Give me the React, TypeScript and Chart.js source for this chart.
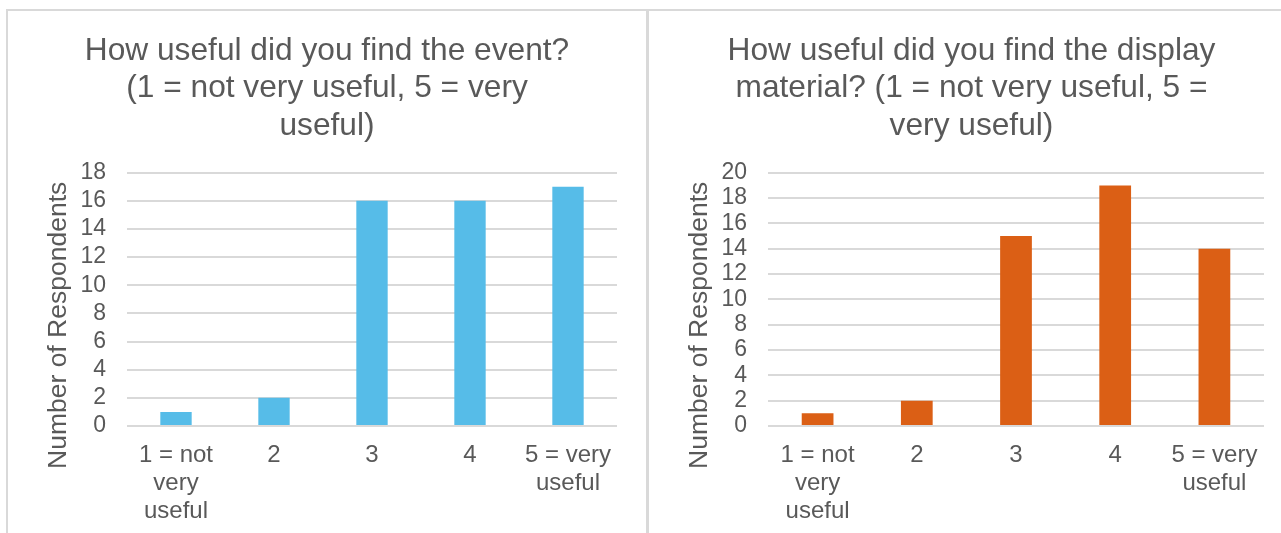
import React, { useEffect, useRef } from "react";
import { Chart, registerables } from "chart.js";

Chart.register(...registerables);

const categories: (string | string[])[] = [
  ["1 = not", "very", "useful"],
  "2",
  "3",
  "4",
  ["5 = very", "useful"],
];

const eventTitle = ["How useful did you find the event?", "(1 = not very useful, 5 = very", "useful)"];
const eventValues = [1, 2, 16, 16, 17];
const eventMax = 18;

const displayTitle = ["How useful did you find the display", "material? (1 = not very useful, 5 =", "very useful)"];
const displayValues = [1, 2, 15, 19, 14];
const displayMax = 20;

const yAxisTitle = "Number of Respondents";

const FONT = "'Liberation Sans', Arial, Helvetica, sans-serif";
const TEXT = "#595959";
const GRID = "#d9d9d9";

const yTitlePlugin = {
  id: "yTitle",
  afterDraw(chart: any) {
    const { ctx, chartArea } = chart;
    ctx.save();
    ctx.fillStyle = TEXT;
    ctx.font = `26.5px ${FONT}`;
    ctx.textAlign = "center";
    ctx.textBaseline = "middle";
    ctx.translate(51, (chartArea.top + chartArea.bottom) / 2 + 26);
    ctx.rotate(-Math.PI / 2);
    ctx.fillText(yAxisTitle, 0, 0);
    ctx.restore();
  },
};

type Props = {
  title: string[];
  values: number[];
  max: number;
  color: string;
  width: number;
  height: number;
  padRight: number;
};

function BarChart({ title, values, max, color, width, height, padRight }: Props) {
  const ref = useRef<HTMLCanvasElement | null>(null);
  useEffect(() => {
    if (!ref.current) return;
    const chart = new Chart(ref.current, {
      type: "bar",
      data: {
        labels: categories,
        datasets: [
          {
            data: values,
            backgroundColor: color,
            borderWidth: 0,
            categoryPercentage: 1,
            barPercentage: 0.32,
            yAxisID: "y",
          },
        ],
      },
      plugins: [yTitlePlugin],
      options: {
        animation: false,
        responsive: false,
        maintainAspectRatio: false,
        layout: { padding: 0 },
        plugins: {
          legend: { display: false },
          tooltip: { enabled: false },
          title: {
            display: true,
            text: title,
            color: TEXT,
            font: { family: FONT, size: 31.7, weight: "normal", lineHeight: 1.18 },
            padding: { top: 21.5, bottom: 28 },
          },
        },
        scales: {
          x: {
            grid: { display: false, drawTicks: false },
            border: { display: false },
            ticks: {
              color: TEXT,
              padding: 16,
              maxRotation: 0,
              autoSkip: false,
              font: { family: FONT, size: 24, lineHeight: 1.15 },
            },
            afterFit: (s: any) => {
              s.height = 107;
            },
          },
          y: {
            min: 0,
            max: max,
            grid: { color: GRID, lineWidth: 2, drawTicks: false },
            border: { display: false },
            ticks: {
              stepSize: 2,
              autoSkip: false,
              color: TEXT,
              padding: 21,
              font: { family: FONT, size: 23 },
            },
            afterFit: (s: any) => {
              s.width = 119;
            },
          },
          yRight: {
            position: "right",
            min: 0,
            max: max,
            grid: { display: false, drawTicks: false },
            border: { display: false },
            ticks: { display: false },
            afterFit: (s: any) => {
              s.width = padRight;
            },
          },
        },
      },
    });
    return () => chart.destroy();
  }, [title, values, max, color, padRight]);
  return <canvas ref={ref} width={width} height={height} style={{ width, height, display: "block" }} />;
}

export default function App() {
  return (
    <div style={{ position: "absolute", left: 0, top: 0, width: 1281, height: 533, background: "#fff", overflow: "hidden" }}>
      <div
        style={{
          position: "absolute",
          left: 6,
          top: 9,
          width: 1275,
          height: 524,
          borderTop: "2px solid #d9d9d9",
          borderLeft: "2px solid #d9d9d9",
          boxSizing: "border-box",
        }}
      />
      <div style={{ position: "absolute", left: 646, top: 9, width: 3, height: 524, background: "#d9d9d9" }} />
      <div style={{ position: "absolute", left: 8, top: 11 }}>
        <BarChart title={eventTitle} values={eventValues} max={eventMax} color="#56bce8" width={638} height={522} padRight={29} />
      </div>
      <div style={{ position: "absolute", left: 649, top: 11 }}>
        <BarChart title={displayTitle} values={displayValues} max={displayMax} color="#db5f15" width={645} height={522} padRight={30} />
      </div>
    </div>
  );
}
